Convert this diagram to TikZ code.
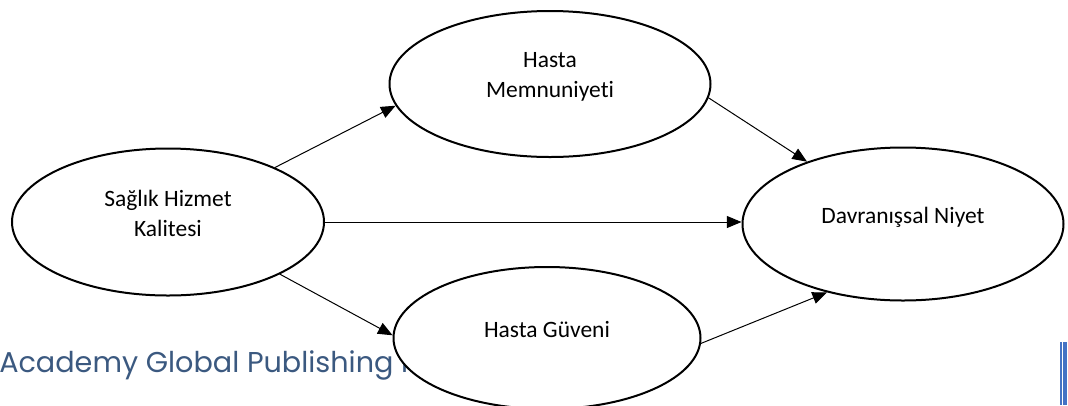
\documentclass[tikz,border=0pt]{standalone}
\usepackage{fontspec}
\setmainfont{Carlito}[Ligatures=NoCommon]
\newfontfamily\pubfont{Poppins}
\usepackage{tikz}
\usetikzlibrary{shapes,arrows.meta,positioning}
\definecolor{pubblue}{RGB}{59,89,128}
\definecolor{barblue}{RGB}{68,114,196}
\newcommand{\lowstrut}{\rule[-13pt]{0pt}{0pt}}

\begin{document}
\begin{tikzpicture}[
    x=0.75pt, y=-0.75pt,
    factor/.style={ellipse, draw, line width=1.5pt, fill=white, inner sep=0pt, align=center, font=\fontsize{17.6}{22.5}\selectfont},
    arrow/.style={-{Triangle[length=11pt, width=9pt]}, line width=0.75pt},
]
    \useasboundingbox (0,0) rectangle (1068,405);
    % Page footer behind the diagram
    \node[anchor=base west, inner sep=0pt, text=pubblue, font=\pubfont\fontsize{21.5}{26}\selectfont] (publisher) at (-1,372) {Academy Global Publishing I};
    \fill[barblue] (1060,342) rectangle (1062,405);
    \fill[barblue] (1063,342) rectangle (1067,405);

    % Constructs
    \node[factor, minimum width=234pt, minimum height=110.25pt] (quality) at (168,222) {Sağlık Hizmet\\Kalitesi\lowstrut};
    \node[factor, minimum width=240.75pt, minimum height=109.5pt] (satisfaction) at (550,84) {Hasta\\Memnuniyeti\lowstrut};
    \node[factor, minimum width=230.25pt, minimum height=106.5pt] (trust) at (547,338) {Hasta Güveni\lowstrut};
    \node[factor, minimum width=240.75pt, minimum height=114.75pt] (intention) at (903,224) {Davranışsal Niyet\lowstrut};

    % Paths
    \draw[arrow] (quality.27) -- (satisfaction.188);
    \draw[arrow] (satisfaction.355) -- (intention.147);
    \draw[arrow] (quality.east) -- (quality.east -| intention.west);
    \draw[arrow] (quality.335) -- (trust.179);
    \draw[arrow] (trust.358) -- (intention.222);
\end{tikzpicture}
\end{document}
